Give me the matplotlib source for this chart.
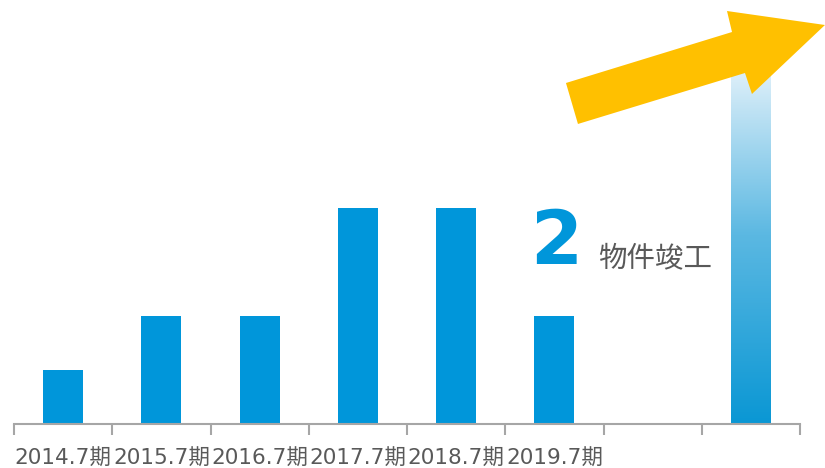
import numpy as np
import matplotlib.pyplot as plt
from matplotlib.patches import Polygon, Rectangle
from matplotlib.colors import LinearSegmentedColormap

# completed properties per fiscal period
periods = ['2014.7期', '2015.7期', '2016.7期', '2017.7期', '2018.7期', '2019.7期', '', '']
completed = [1, 2, 2, 4, 4, 2]
future_value = 7.0   # outlook bar (gradient), drawn in the last slot
future_slot = 7

bar_color = '#0096DA'
axis_color = '#A6A6A6'
text_color = '#595959'

fig = plt.figure(figsize=(8.25, 4.68), dpi=100)
ax = fig.add_axes([14 / 825, 44 / 468, 786 / 825, 424 / 468])

x = np.arange(len(completed))
bar_w = 40 / 98.25
ax.bar(x, completed, width=bar_w, color=bar_color, zorder=2)

# gradient bar for the outlook
grad = np.linspace(0, 1, 256).reshape(-1, 1)
cmap = LinearSegmentedColormap.from_list('fade', ['#F2F8FD', '#5BB8E2', '#0A97D4'])
x0 = future_slot - bar_w / 2
img = ax.imshow(grad, cmap=cmap, aspect='auto', origin='upper',
                extent=[x0, x0 + bar_w, 0, future_value], zorder=2)
clip = Rectangle((x0, 0), bar_w, future_value, transform=ax.transData)
img.set_clip_path(clip)

ax.set_xlim(-0.5, len(periods) - 0.5)
ax.set_ylim(0, 424 / 54)

# category boundary ticks
ax.set_xticks(np.arange(len(periods) + 1) - 0.5)
ax.set_xticklabels([])
ax.set_xticks(np.arange(len(periods)), minor=True)
ax.set_xticklabels(periods, minor=True, fontsize=15.5, color=text_color,
                   family=['DejaVu Sans', 'Noto Sans CJK JP'])
ax.tick_params(axis='x', which='major', length=8, width=1.5, color=axis_color, direction='out')
ax.tick_params(axis='x', which='minor', length=0, pad=18)
ax.set_yticks([])
for side in ['top', 'right', 'left']:
    ax.spines[side].set_visible(False)
ax.spines['bottom'].set_color(axis_color)
ax.spines['bottom'].set_linewidth(1.5)

# upward arrow
arrow_pts = [(5.118, 6.315), (5.240, 5.556), (6.940, 6.50), (7.011, 6.111),
             (7.754, 7.389), (6.757, 7.648), (6.808, 7.259)]
ax.add_patch(Polygon(arrow_pts, closed=True, facecolor='#FFC000', edgecolor='none',
                     zorder=3, clip_on=False))

ax.text(4.75, 2.96, '2', fontsize=54, fontweight='bold', color=bar_color,
        family='DejaVu Sans', ha='left', va='baseline')
ax.text(5.45, 2.93, '物件竣工', fontsize=20.5, color=text_color,
        family='Noto Sans CJK JP', ha='left', va='baseline')

fig.savefig('out.png', dpi=100)
